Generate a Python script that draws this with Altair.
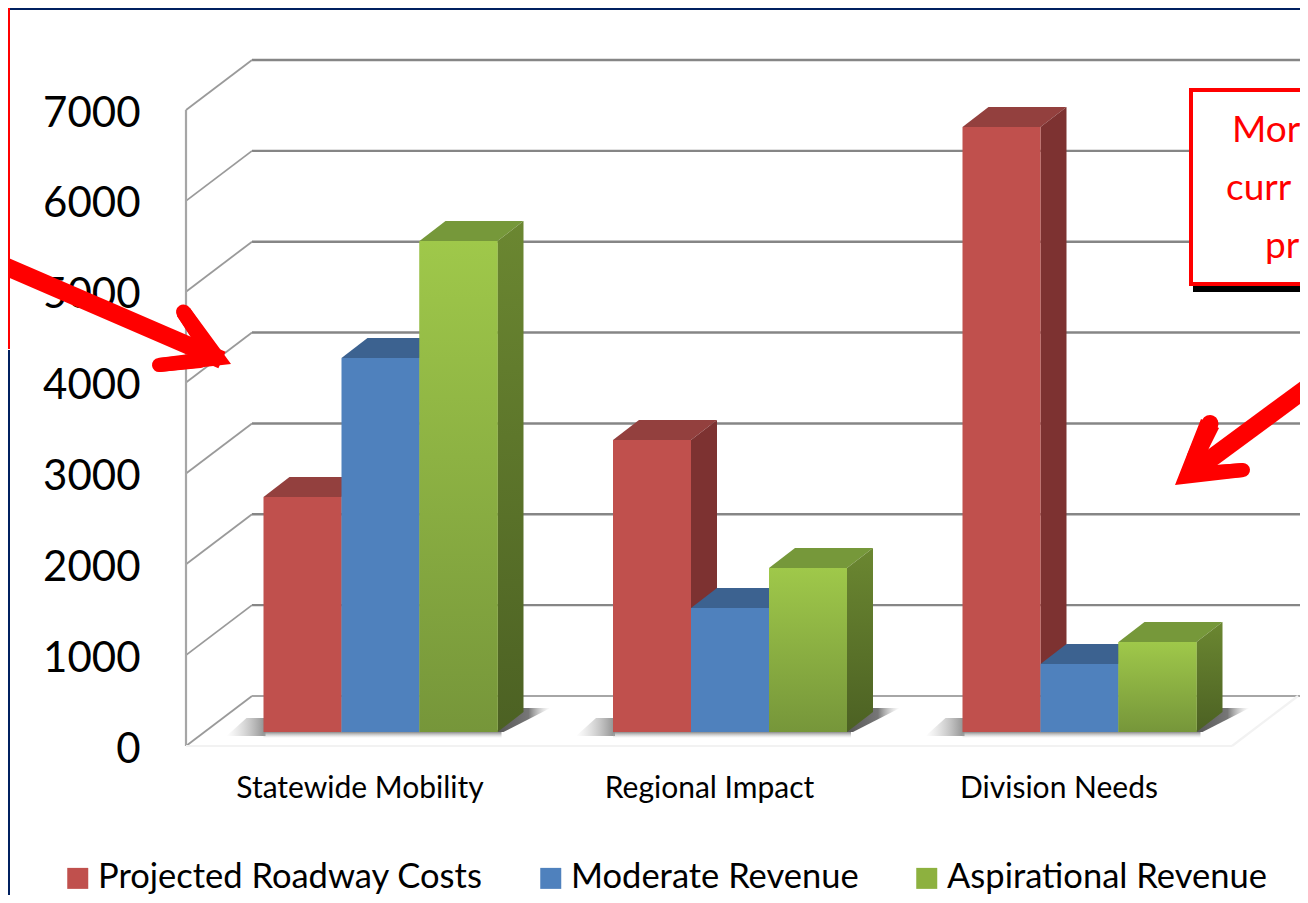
import altair as alt
import pandas as pd

categories = ["Statewide Mobility", "Regional Impact", "Division Needs"]
series = ["Projected Roadway Costs", "Moderate Revenue", "Aspirational Revenue"]
costs = [2586, 3214, 6659]
moderate = [4116, 1365, 748]
aspirational = [5404, 1805, 990]
ticks = [0, 1000, 2000, 3000, 4000, 5000, 6000, 7000]

front_colors = ["#C0504D", "#4F81BD", "#8DB13F"]
side_colors = ["#7D3231", "#3C6290", None]
top_colors = ["#93403E", "#3C6290", "#76983A"]
FONT = "Lato"

# layout (image pixels)
W, H = 1292, 887
PAD = 178
AX = 186                # image x of axis
STEP = 349.5            # px per category
C0 = 380.5              # image x of the first group's centre
PPU = 636 / 7000        # px per value unit
Y0_IMG = 746

def ux(px):
    return px / STEP

def uy(px):
    return px / PPU

x_dom = [(AX - C0) / STEP, (AX - C0 + (W - PAD)) / STEP]
y_dom = [-(H + 8 - Y0_IMG) / PPU, (Y0_IMG - 8) / PPU]
xs = alt.Scale(domain=x_dom, nice=False, zero=False)
ys = alt.Scale(domain=y_dom, nice=False, zero=False)
y_axis = alt.Axis(values=ticks, title=None, domain=False, ticks=False, grid=False,
                  labelFont=FONT, labelFontSize=42, labelColor="#000000", labelOffset=3,
                  labelPadding=46, format="d", labelFlush=False, labelOverlap=False)
X = lambda f="x": alt.X(f"{f}:Q", scale=xs, axis=None)
Y = lambda f="y": alt.Y(f"{f}:Q", scale=ys, axis=y_axis)
X2 = lambda f="x2": alt.X2(f"{f}")
Y2 = lambda f="y2": alt.Y2(f"{f}")

BAR_W = ux(78)
BASE = uy(14)
DX, DY = ux(26), uy(20)
WX, WY = ux(66), uy(50)

rows_front, rows_side, rows_top = [], [], []
for j, (name, vals) in enumerate(zip(series, [costs, moderate, aspirational])):
    for i, v in enumerate(vals):
        xl = i + (j - 1.5) * BAR_W
        xr = xl + BAR_W
        t = v + BASE
        bid = f"{i}-{j}"
        rows_front.append(dict(s=name, j=j, x=xl, x2=xr, y=BASE, y2=t))
        rows_side += [dict(id=bid, j=j, x=xr, y=t, y2=BASE),
                      dict(id=bid, j=j, x=xr + DX, y=t + DY, y2=BASE + DY)]
        rows_top += [dict(id=bid, j=j, y=t, x=xl, x2=xr),
                     dict(id=bid, j=j, y=t + DY, x=xl + DX, x2=xr + DX)]
front = pd.DataFrame(rows_front)
side = pd.DataFrame(rows_side)
top = pd.DataFrame(rows_top)

def grad(stops_in, horizontal=False):
    stops = [alt.GradientStop(color=c, offset=o) for c, o in stops_in]
    if horizontal:
        return alt.Gradient(gradient="linear", stops=stops, x1=0, x2=1, y1=0, y2=0)
    return alt.Gradient(gradient="linear", stops=stops, x1=0, x2=0, y1=0, y2=1)

one = pd.DataFrame({"a": [0]})
layers = []

# walls
x_end = x_dom[0] + (1300 - AX) / STEP
grid_back = pd.DataFrame([dict(x=x_dom[0] + WX, x2=x_end, y=t + WY, y2=t + WY) for t in ticks if t > 0])
grid_diag = pd.DataFrame([dict(x=x_dom[0], x2=x_dom[0] + WX, y=t, y2=t + WY) for t in ticks])
layers.append(alt.Chart(grid_back).mark_rule(color="#868686", strokeWidth=2.4).encode(x=X(), x2=X2(), y=Y(), y2=Y2()))
layers.append(alt.Chart(grid_diag).mark_rule(color="#9A9A9A", strokeWidth=1.8).encode(x=X(), x2=X2(), y=Y(), y2=Y2()))
layers.append(alt.Chart(pd.DataFrame([dict(x=x_dom[0], x2=x_dom[0], y=0, y2=7000)])).mark_rule(color="#A6A6A6", strokeWidth=2.2).encode(x=X(), x2=X2(), y=Y(), y2=Y2()))
layers.append(alt.Chart(pd.DataFrame([dict(x=x_dom[0] + WX, x2=x_end, y=WY, y2=WY)])).mark_rule(color="#A6A6A6", strokeWidth=2).encode(x=X(), x2=X2(), y=Y(), y2=Y2()))
floor = pd.DataFrame([dict(x=x_dom[0], x2=x_dom[0] + (1232 - AX) / STEP, y=0, y2=0),
                      dict(x=x_dom[0] + (1232 - AX) / STEP, x2=x_dom[0] + (1298 - AX) / STEP, y=0, y2=WY)])
layers.append(alt.Chart(floor).mark_rule(color="#F2F2F2", strokeWidth=2.2).encode(x=X(), x2=X2(), y=Y(), y2=Y2()))

# floor shadows
sh_r, sh_l, sh_b = [], [], []
for i in range(3):
    L = i - 1.5 * BAR_W
    R = i + 1.5 * BAR_W
    sh_r += [dict(id=i, y=BASE, x=R - ux(2), x2=R + ux(6)),
             dict(id=i, y=BASE + DY + uy(4), x=R + DX - ux(4), x2=R + DX + ux(27))]
    sh_l += [dict(id=i, y=BASE - uy(4), x=L - ux(37), x2=L + ux(2)),
             dict(id=i, y=BASE + uy(14), x=L - ux(17), x2=L + ux(2))]
    sh_b.append(dict(x=L, x2=R + ux(4), y=BASE, y2=BASE - uy(6)))
layers.append(alt.Chart(pd.DataFrame(sh_r)).mark_area(
    orient="horizontal",
    color=grad([("#555555", 0), ("#777777", 0.6), ("rgba(190,190,190,0)", 1)], True)).encode(
    y=Y(), x=X(), x2=X2(), detail="id:N"))
layers.append(alt.Chart(pd.DataFrame(sh_l)).mark_area(
    orient="horizontal",
    color=grad([("rgba(190,190,190,0)", 0), ("#8F8F8F", 1)], True)).encode(
    y=Y(), x=X(), x2=X2(), detail="id:N"))
layers.append(alt.Chart(pd.DataFrame(sh_b)).mark_rect(
    color=grad([("#8A8A8A", 0), ("rgba(200,200,200,0)", 1)])).encode(
    x=X(), x2=X2(), y=Y(), y2=Y2()))

# tops and sides, back to front
for j in range(3):
    t = top[top.j == j]
    s = side[side.j == j]
    layers.append(alt.Chart(t).mark_area(orient="horizontal", color=top_colors[j]).encode(
        y=Y(), x=X(), x2=X2(), detail="id:N"))
    side_fill = side_colors[j] if side_colors[j] else grad([("#6B8731", 0), ("#4C6123", 1)])
    layers.append(alt.Chart(s).mark_area(orient="vertical", color=side_fill).encode(
        x=X(), y=Y(), y2=Y2(), detail="id:N"))

# front faces, these carry the legend
layers.append(alt.Chart(front).mark_rect().encode(
    x=X(), x2=X2(), y=Y(), y2=Y2(),
    color=alt.Color("s:N", scale=alt.Scale(domain=series, range=front_colors), sort=series,
                    legend=alt.Legend(orient="none", legendX=60.5 - AX, legendY=853, direction="horizontal",
                                      columns=3, title=None, symbolType="square", symbolSize=441,
                                      symbolStrokeWidth=0, symbolOpacity=1, labelFont=FONT, labelFontSize=34.5,
                                      labelColor="#000000", labelOffset=3, columnPadding=50,
                                      labelLimit=500)),
))
layers.append(alt.Chart(front[front.j == 2]).mark_rect(color=grad([("#9FC84A", 0), ("#76963A", 1)])).encode(
    x=X(), x2=X2(), y=Y(), y2=Y2()))

# category labels
cat_df = pd.DataFrame({"t": categories, "x": [i - 20.5 / STEP for i in range(3)]})
layers.append(alt.Chart(cat_df).mark_text(font=FONT, fontSize=30, color="#000000", baseline="middle").encode(
    x=X(), y=alt.value(789 - 8), text="t:N"))

# ---- annotations in image pixels
px = lambda v: v - AX
py = lambda v: v - 8

def band(x0, x1, y0, y1, color):
    return alt.Chart(one).mark_rect(color=color).encode(
        x=alt.value(px(x0)), x2=alt.value(px(x1)), y=alt.value(py(y0)), y2=alt.value(py(y1)))

def stroke(x0, y0, x1, y1, w, cap="round"):
    return alt.Chart(one).mark_rule(color="#FF0000", strokeWidth=w, strokeCap=cap).encode(
        x=alt.value(px(x0)), x2=alt.value(px(x1)), y=alt.value(py(y0)), y2=alt.value(py(y1)))

def poly(points):
    d = "M" + " L".join(f"{px(a):.1f} {py(b):.1f}" for a, b in points) + " Z"
    return alt.Chart(one).mark_point(shape=d, size=4, filled=True, color="#FF0000", opacity=1, strokeWidth=0).encode(
        x=alt.value(0), y=alt.value(0))

layers.append(band(8, 1308, 8, 10, "#002060"))
layers.append(band(8, 10, 350, 903, "#002060"))
layers.append(band(8, 10, 8, 349, "#FF0000"))

# left arrow
layers.append(stroke(0, 264, 222, 360, 18, "butt"))
layers.append(stroke(183.5, 312, 205, 344, 15))
layers.append(stroke(159, 365, 200, 361, 14))
layers.append(poly([(231, 364), (190, 308), (177, 316), (192, 339), (205, 352), (158, 358), (160, 372)]))

# right box with shadow
layers.append(band(1193, 1310, 284, 292, "#000000"))
layers.append(alt.Chart(one).mark_rect(color="#FFFFFF", stroke="#FF0000", strokeWidth=4).encode(
    x=alt.value(px(1191)), x2=alt.value(px(1330)), y=alt.value(py(90)), y2=alt.value(py(284))))
box_text = [("Mor", 1232, 131), ("curr", 1226, 189), ("pr", 1265, 247)]
for txt, bx, by in box_text:
    layers.append(alt.Chart(pd.DataFrame({"t": [txt]})).mark_text(
        font=FONT, fontSize=37, color="#FF0000", align="left", baseline="middle").encode(
        x=alt.value(px(bx)), y=alt.value(py(by)), text="t:N"))

# right arrow
layers.append(stroke(1312, 384, 1190, 474, 18, "butt"))
layers.append(stroke(1210, 423.5, 1195, 458, 17))
layers.append(stroke(1243, 470, 1205, 473, 14))
layers.append(poly([(1175, 485), (1201, 419), (1219, 428), (1207, 452), (1217, 465), (1243, 463), (1244, 477)]))

chart = alt.layer(*layers).properties(
    width=W - PAD, height=H,
    padding={"left": PAD, "top": 0, "right": 0, "bottom": 0},
    autosize="none",
    background="#FFFFFF",
).configure_view(stroke=None)

chart.save("out.html", embed_options={"renderer": "svg", "actions": False})
